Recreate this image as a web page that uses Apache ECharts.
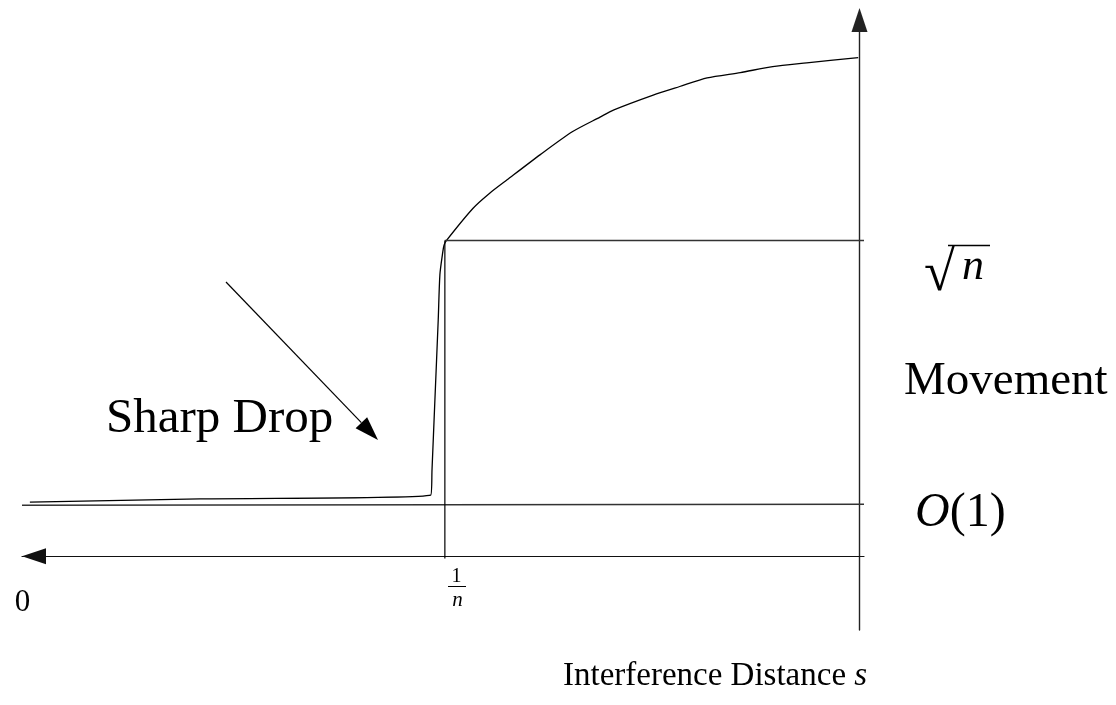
<!DOCTYPE html>
<html>
<head>
<meta charset="utf-8">
<script src="https://cdn.jsdelivr.net/npm/echarts@6/dist/echarts.min.js"></script>
<style>
  html, body { margin: 0; background: #fff; }
  #chart { width: 1116px; height: 705px; }
</style>
</head>
<body>
<div id="chart"></div>
<script>
// interference distance s (arbitrary units, 0 at the left arrow) vs movement
var curveS = [-0.05, 2.0, 4.78, 4.795, 4.83, 4.87, 4.89, 4.92, 4.94, 4.97, 5.29, 5.49, 5.70, 6.10, 6.49, 6.82, 6.98, 7.46, 7.78, 8.11, 8.51, 8.90, 9.31, 9.93];
var curveM = [1.01, 1.07, 1.14, 1.61, 2.92, 4.41, 5.25, 5.62, 5.80, 5.89, 6.49, 6.77, 7.02, 7.49, 7.92, 8.19, 8.32, 8.60, 8.76, 8.92, 9.02, 9.13, 9.20, 9.30];

// reference levels
var levelS = [-0.145, 10.0];   // O(1) line from left to right end
var levelO1 = [0.95, 0.97];
var invN = 4.95;               // s = 1/n
var sqrtN = 5.89;              // movement = sqrt(n)
var tickFoot = -0.04;
var axisEnd = 10.0;

var labels = {
  zero: '0',
  drop: 'Sharp Drop',
  move: 'Movement',
  xName: 'Interference Distance '
};

function pairs(xs, ys) {
  return xs.map(function (x, i) { return [x, ys[i]]; });
}

var serif = '"Liberation Serif", "DejaVu Serif", serif';
var ink = '#000';

function txt(x, y, text, size, opts) {
  opts = opts || {};
  return {
    type: 'text', x: x, y: y, silent: true,
    style: {
      text: text,
      font: (opts.italic ? 'italic ' : '') + size + 'px ' + serif,
      fill: ink,
      align: opts.align || 'left', textAlign: opts.align || 'left',
      verticalAlign: 'middle', textVerticalAlign: 'middle',
      rich: opts.rich
    }
  };
}

// sharp drop pointer
var pStart = [226, 282], pTip = [378, 440];
var dx = pTip[0] - pStart[0], dy = pTip[1] - pStart[1];
var len = Math.sqrt(dx * dx + dy * dy), ux = dx / len, uy = dy / len;
var base = [pTip[0] - 24 * ux, pTip[1] - 24 * uy];

var chart = echarts.init(document.getElementById('chart'));
chart.setOption({
  backgroundColor: '#fff',
  animation: false,
  grid: { left: 22, right: 252, top: 20, bottom: 75 },
  xAxis: {
    type: 'value', min: -0.145, max: 10,
    axisLine: {
      onZero: true, symbol: ['triangle', 'none'], symbolSize: [16, 24], symbolOffset: [12, 0],
      lineStyle: { color: '#111', width: 1.2 }
    },
    axisTick: { show: false }, axisLabel: { show: false }, splitLine: { show: false }
  },
  yAxis: {
    type: 'value', min: -1.375, max: 10, position: 'right', offset: -4.5,
    axisLine: { show: true, onZero: false, symbol: ['none', 'triangle'], symbolSize: [16, 24], lineStyle: { color: '#222', width: 1.4 } },
    axisTick: { show: false }, axisLabel: { show: false }, splitLine: { show: false }
  },
  series: [
    {
      name: 'movement', type: 'line', data: pairs(curveS, curveM), clip: false,
      smooth: 0.25,
      showSymbol: false, lineStyle: { color: ink, width: 1.3 }
    },
    {
      name: 'O(1)', type: 'line', data: pairs(levelS, levelO1), clip: false,
      showSymbol: false, lineStyle: { color: '#333', width: 1.5 }
    },
    {
      name: 'sqrt n', type: 'line', data: [[invN, sqrtN], [axisEnd, sqrtN]], clip: false,
      showSymbol: false, lineStyle: { color: '#333', width: 1.5 }
    },
    {
      name: '1/n', type: 'line', data: [[invN, sqrtN], [invN, tickFoot]], clip: false,
      showSymbol: false, lineStyle: { color: ink, width: 1.2 }
    }
  ],
  graphic: [
    txt(22.5, 602.5, labels.zero, 31, { align: 'center' }),
    txt(456.5, 576.5, '1', 20, { align: 'center' }),
    { type: 'line', silent: true, shape: { x1: 448, y1: 586.5, x2: 466, y2: 586.5 }, style: { stroke: ink, lineWidth: 1 } },
    txt(457.5, 600.5, 'n', 21, { align: 'center', italic: true }),
    txt(106, 419, labels.drop, 49),
    txt(904, 382, labels.move, 47),
    txt(924, 275, '\u221A', 56),
    { type: 'line', silent: true, shape: { x1: 948, y1: 245.5, x2: 990, y2: 245.5 }, style: { stroke: ink, lineWidth: 1.6 } },
    txt(962, 267, 'n', 44, { italic: true }),
    txt(915, 513.5, '{i|O}{u|(1)}', 48, {
      rich: { i: { fontStyle: 'italic', fontSize: 48, fontFamily: serif }, u: { fontSize: 48, fontFamily: serif } }
    }),
    txt(563, 676.5, '{u|' + labels.xName + '}{i|s}', 33, {
      rich: { i: { fontStyle: 'italic', fontSize: 33, fontFamily: serif }, u: { fontSize: 33, fontFamily: serif } }
    }),
    { type: 'line', silent: true, shape: { x1: pStart[0], y1: pStart[1], x2: base[0], y2: base[1] }, style: { stroke: ink, lineWidth: 1.2 } },
    {
      type: 'polygon', silent: true,
      shape: { points: [pTip, [base[0] - 8 * uy, base[1] + 8 * ux], [base[0] + 8 * uy, base[1] - 8 * ux]] },
      style: { fill: ink }
    }
  ]
});
</script>
</body>
</html>
